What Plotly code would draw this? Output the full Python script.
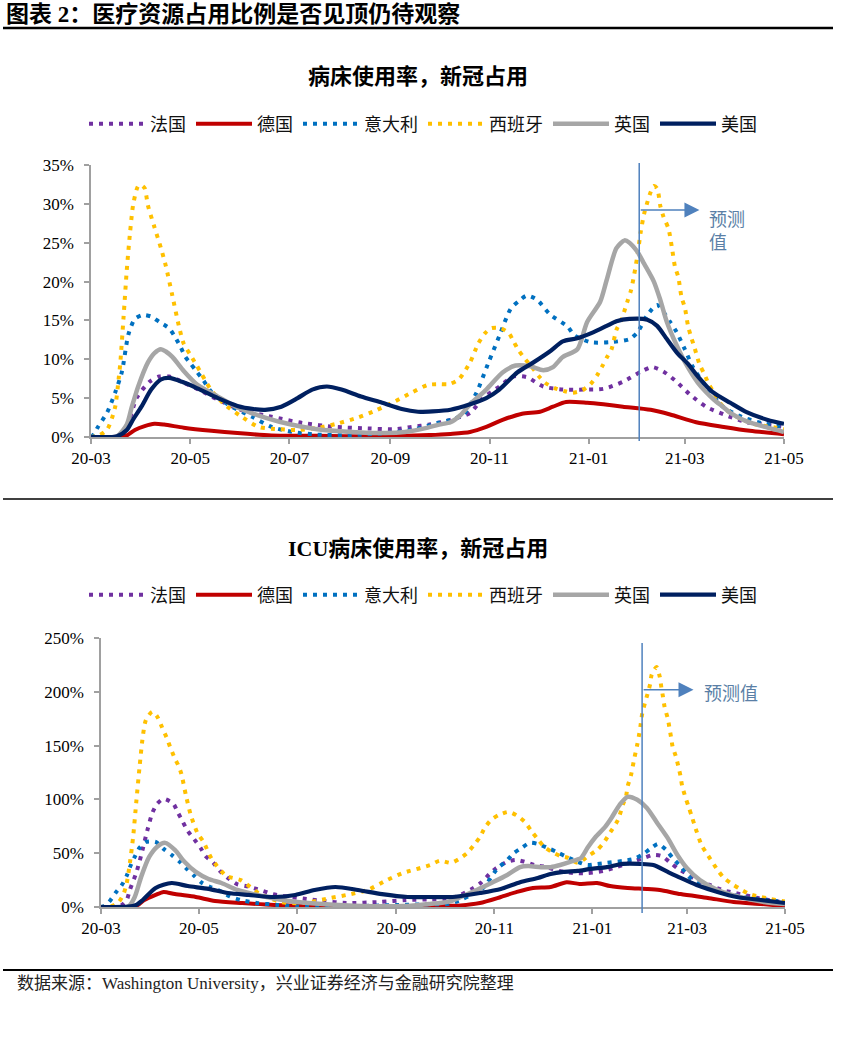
import pandas as pd
import plotly.graph_objects as go

START = "2020-03-01"
X_END = "2021-05-01"
FORECAST_START = "2021-02-01"

# ---------------- 病床使用率 (%), x = days since 2020-03-01 ----------------
fr_bed_days = [0, 16, 22, 28, 36, 42, 48, 57, 68, 78, 92, 111, 130, 150, 170, 187, 197, 208, 221, 233, 241, 251,
               260, 268, 278, 290, 303, 315, 327, 338, 345, 352, 360, 368, 378, 389, 403, 415, 426]
fr_bed_vals = [0, 0.1, 1.3, 5.0, 7.1, 7.8, 7.8, 7.0, 5.9, 4.8, 3.5, 2.6, 1.8, 1.3, 1.1, 1.0, 1.3, 1.6, 2.2, 3.1, 5.0,
               6.5, 7.8, 7.7, 6.5, 6.1, 6.1, 6.2, 7.1, 8.4, 9.0, 8.4, 7.1, 5.5, 3.9, 2.9, 1.9, 1.6, 1.3]

de_bed_days = [0, 17, 22, 27, 33, 39, 45, 57, 74, 90, 111, 139, 180, 208, 221, 233, 243, 253, 265, 276, 284, 292,
               305, 315, 327, 344, 356, 372, 389, 405, 426]
de_bed_vals = [0, 0, 0.2, 0.9, 1.4, 1.7, 1.6, 1.2, 0.8, 0.5, 0.2, 0.15, 0.1, 0.25, 0.4, 0.65, 1.3, 2.2, 3.0, 3.25,
               3.9, 4.5, 4.4, 4.2, 3.9, 3.5, 2.9, 1.9, 1.3, 0.8, 0.35]

it_bed_days = [0, 2, 4, 10, 15, 19, 23, 27, 32, 37, 42, 48, 51, 55, 58, 61, 65, 69, 74, 84, 99, 111, 124, 139, 160,
               181, 197, 213, 221, 229, 237, 244, 251, 258, 263, 268, 274, 282, 293, 297, 307, 319, 331, 336, 342,
               348, 356, 360, 365, 370, 375, 381, 389, 400, 412, 426]
it_bed_vals = [0, 0.4, 1.2, 3.2, 5.8, 8.4, 13.2, 15.2, 15.7, 15.5, 14.8, 14.0, 13.1, 11.6, 10.3, 9.5, 8.4, 7.3, 5.8,
               4.2, 2.6, 1.3, 0.65, 0.3, 0.25, 0.5, 0.9, 1.8, 2.2, 2.9, 5.7, 9.4, 13.0, 16.5, 17.5, 18.2, 17.7, 15.8,
               14.2, 13.1, 12.2, 12.2, 12.6, 13.5, 15.7, 17.0, 14.8, 13.5, 11.3, 9.0, 7.4, 5.7, 3.8, 2.6, 1.8, 1.3]

es_bed_days = [0, 5, 10, 13, 15, 17, 18, 20, 22, 24, 26, 29, 31, 33, 35, 39, 43, 46, 50, 54, 57, 61, 65, 68, 71, 74,
               82, 92, 103, 116, 127, 140, 151, 164, 175, 187, 197, 207, 214, 220, 226, 233, 238, 242, 246, 252, 257,
               260, 263, 267, 271, 275, 279, 285, 291, 296, 302, 307, 311, 314, 317, 320, 323, 326, 328, 330, 332,
               334, 336, 338, 340, 342, 344, 346, 348, 350, 352, 355, 357, 359, 361, 363, 365, 367, 369, 371, 374,
               377, 380, 383, 386, 390, 396, 402, 409, 415, 421, 426]
es_bed_vals = [0, 0.2, 1.0, 2.5, 4.0, 7.5, 9.5, 15.4, 21.5, 26.3, 30.0, 32.3, 32.4, 32.0, 29.8, 27.0, 24.3, 22.0,
               18.2, 14.3, 12.0, 10.6, 9.2, 8.1, 7.0, 6.0, 4.2, 2.7, 1.3, 1.0, 0.9, 1.2, 1.7, 2.5, 3.4, 4.6, 5.7, 6.7,
               6.8, 6.8, 7.4, 9.6, 12.0, 13.3, 14.0, 14.0, 13.3, 12.2, 11.1, 10.0, 9.0, 7.9, 7.0, 6.3, 5.9, 5.7, 6.0,
               6.8, 7.9, 9.0, 10.2, 11.3, 13.8, 15.0, 16.3, 17.6, 18.9, 21.0, 23.5, 26.5, 28.7, 30.2, 31.5, 32.3,
               32.0, 29.7, 28.3, 26.8, 24.5, 21.9, 20.6, 18.0, 16.7, 14.3, 12.8, 11.5, 9.4, 8.1, 6.7, 5.7, 4.6, 3.6,
               2.7, 2.1, 1.6, 1.4, 1.2, 1.0]

gb_bed_days = [0, 16, 22, 25, 29, 35, 39, 43, 46, 50, 57, 65, 78, 90, 107, 123, 139, 160, 181, 193, 207, 214, 221,
               227, 233, 243, 253, 261, 270, 278, 284, 290, 299, 305, 313, 317, 323, 328, 331, 336, 340, 346, 350,
               354, 360, 366, 373, 378, 383, 389, 393, 403, 416, 426]
gb_bed_vals = [0, 0.1, 1.6, 3.8, 6.5, 9.6, 10.8, 11.3, 11.0, 10.3, 8.5, 6.8, 5.2, 3.8, 2.5, 1.6, 1.0, 0.65, 0.5,
               0.65, 1.2, 1.6, 1.9, 2.8, 4.2, 6.1, 8.3, 9.2, 9.1, 8.6, 9.0, 10.3, 11.3, 14.8, 17.4, 20.2, 24.3, 25.3,
               25.0, 23.8, 22.3, 20.0, 17.6, 14.8, 11.8, 9.3, 7.0, 5.8, 4.8, 3.8, 3.1, 2.0, 1.2, 0.65]

us_bed_days = [0, 16, 22, 26, 31, 37, 43, 48, 56, 65, 78, 90, 100, 107, 117, 127, 136, 145, 154, 166, 179, 191, 201,
               210, 221, 233, 243, 251, 262, 272, 282, 290, 299, 309, 317, 323, 331, 342, 348, 354, 360, 367, 373,
               382, 393, 403, 416, 426]
us_bed_vals = [0, 0.1, 0.9, 2.3, 3.9, 6.1, 7.4, 7.6, 7.1, 6.3, 5.0, 4.0, 3.6, 3.5, 3.9, 5.0, 6.1, 6.5, 6.1, 5.2, 4.4,
               3.6, 3.25, 3.3, 3.5, 4.2, 5.0, 6.1, 8.3, 9.6, 11.0, 12.3, 12.7, 13.5, 14.3, 14.9, 15.2, 15.1, 14.3,
               12.6, 10.9, 9.4, 7.8, 5.8, 4.4, 3.2, 2.2, 1.7]

# ---------------- ICU病床使用率 (%) ----------------
fr_icu_days = [0, 10, 13, 16, 18, 22, 25, 29, 32, 35, 39, 45, 48, 51, 54, 58, 62, 65, 70, 74, 79, 85, 90, 97, 107,
               118, 128, 138, 153, 174, 190, 205, 214, 222, 232, 237, 242, 246, 253, 258, 264, 270, 278, 285, 294,
               303, 313, 321, 331, 338, 344, 349, 354, 359, 365, 371, 379, 387, 398, 409, 419, 426]
fr_icu_vals = [0, 0.5, 2, 6.5, 16, 32, 48, 72, 87.5, 96, 100.5, 96, 87.5, 79, 70.7, 63, 55, 47.5, 41, 33.5, 27, 21,
               19.5, 16.8, 12, 9.3, 7.4, 5.6, 3.7, 4.7, 6.5, 7, 7.5, 10, 17.7, 23, 30.7, 36, 42, 43.8, 42, 39, 37,
               33.5, 31.6, 31.6, 33.5, 37, 42, 45.6, 48.4, 47.5, 42, 36, 30.7, 25, 20.5, 15.8, 12, 8.4, 5.6, 4.7]

de_icu_days = [0, 17, 22, 27, 34, 39, 46, 59, 71, 88, 108, 141, 180, 204, 215, 224, 236, 249, 259, 269, 280, 290,
               298, 309, 317, 328, 340, 348, 361, 378, 394, 411, 426]
de_icu_vals = [0, 0, 1, 6.5, 11.2, 14, 12, 9.3, 5.6, 3.7, 1.9, 0.3, 0.3, 0.6, 1.2, 1.5, 3.7, 9.3, 14, 17.7, 18.6,
               23, 21.4, 22.3, 19.5, 17.7, 16.8, 15.8, 12, 8.4, 4.7, 2.8, 0.9]

it_icu_days = [0, 2, 5, 9, 13, 16, 18, 21, 24, 28, 34, 39, 44, 49, 53, 58, 63, 68, 73, 80, 87, 97, 110, 122, 143,
               163, 184, 205, 217, 224, 230, 238, 247, 252, 257, 262, 267, 272, 278, 284, 290, 297, 303, 309, 315,
               325, 332, 337, 342, 347, 352, 356, 362, 367, 373, 381, 392, 403, 415, 426]
it_icu_vals = [0, 1, 4.7, 13, 20.5, 29, 37, 46.5, 55, 60.5, 60.5, 54, 48.4, 42, 36, 29, 22.3, 18.6, 15.8, 10, 6.5,
               3.7, 1.9, 0.5, 0.3, 0.9, 1.9, 2.5, 3, 6.5, 11, 17.7, 36, 42, 50, 55, 59.6, 58.6, 55, 51, 46.5, 42, 39,
               40, 41, 42.8, 44.7, 48.4, 54, 58.6, 53, 45.6, 36, 27, 21.4, 16.8, 12, 8.4, 6.5, 4.7]

es_icu_days = [0, 6, 11, 14, 16, 18, 20, 22, 24, 26, 28, 32, 35, 38, 41, 43, 46, 48, 50, 53, 56, 60, 64, 69, 78, 87,
               99, 112, 126, 143, 153, 166, 178, 188, 199, 205, 211, 218, 223, 228, 232, 236, 239, 243, 248, 254, 259,
               264, 268, 272, 276, 281, 286, 291, 297, 304, 309, 313, 317, 322, 325, 327, 328, 330, 332, 334, 335,
               336, 337, 339, 340, 342, 343, 346, 348, 349, 350, 351, 353, 355, 356, 358, 360, 361, 362, 364, 366,
               368, 370, 374, 378, 384, 388, 393, 398, 404, 411, 417, 424, 426]
es_icu_vals = [0, 0.5, 4.6, 12, 22, 41, 65, 98, 130, 158, 174, 181.5, 177, 167, 157, 149, 138, 132, 124, 103, 85, 69,
               60, 44.7, 29, 25, 12, 4.7, 3.7, 8.4, 11.2, 15.8, 25, 31.6, 36.3, 39, 43, 41, 44.7, 50, 57, 65, 73.5,
               81, 85.7, 88.4, 85, 79, 70.8, 63, 56, 51, 47.5, 45.6, 41, 48, 53, 59.6, 69, 81, 95, 103, 112, 122, 137,
               151, 159, 168.5, 179, 191, 196, 207, 216, 223, 214, 204, 195.5, 186, 175, 158, 149, 140, 128, 121, 112,
               102, 93, 84, 74.5, 57.7, 48, 34.4, 27, 21.4, 16.8, 12, 9.3, 7.4, 5.6, 5]

gb_icu_days = [0, 17, 21, 25, 30, 35, 40, 46, 52, 59, 67, 75, 85, 100, 117, 138, 163, 188, 204, 211, 219, 224, 234,
               244, 253, 261, 266, 274, 280, 286, 294, 299, 303, 308, 314, 318, 323, 328, 334, 340, 346, 353, 359,
               365, 373, 384, 398, 413, 426]
gb_icu_vals = [0, 0.5, 9.3, 28, 46.5, 56, 59.6, 53, 42, 32.6, 26, 22.3, 15.8, 10.2, 5.6, 2.8, 0.9, 0.9, 2.8, 3.7, 6,
               9.3, 15.8, 23, 29.8, 37, 38, 37, 37, 39, 42.8, 45.6, 55, 65, 74.5, 83, 95, 102.4, 99.6, 92, 79, 64,
               48.4, 36, 25, 15.8, 9.3, 4.7, 2.8]

us_icu_days = [0, 17, 22, 26, 34, 44, 54, 67, 79, 92, 108, 121, 133, 146, 160, 175, 191, 204, 219, 224, 236, 249,
               261, 272, 280, 288, 297, 305, 315, 325, 336, 344, 353, 361, 371, 384, 396, 411, 426]
us_icu_vals = [0, 0.3, 2, 6.5, 17.7, 22.3, 19.5, 16.8, 13, 11.2, 9.3, 11.2, 15.8, 18.6, 15.8, 12, 9.3, 9.3, 9.3, 10.2,
               13, 16.8, 23, 27, 30.7, 32.6, 33.5, 35.4, 37, 40, 40, 39, 32.6, 27, 20.5, 14, 9.3, 6.5, 3.7]

countries = ["法国", "德国", "意大利", "西班牙", "英国", "美国"]
colors = ["#7030a0", "#c00000", "#0070c0", "#ffc000", "#a6a6a6", "#002060"]
dashes = ["4px,6px", "solid", "4px,6px", "4px,6px", "solid", "solid"]
widths = [4, 4, 4, 4, 4.5, 4.2]

bed_series = [(fr_bed_days, fr_bed_vals), (de_bed_days, de_bed_vals), (it_bed_days, it_bed_vals),
              (es_bed_days, es_bed_vals), (gb_bed_days, gb_bed_vals), (us_bed_days, us_bed_vals)]
icu_series = [(fr_icu_days, fr_icu_vals), (de_icu_days, de_icu_vals), (it_icu_days, it_icu_vals),
              (es_icu_days, es_icu_vals), (gb_icu_days, gb_icu_vals), (us_icu_days, us_icu_vals)]


def to_dates(days):
    base = pd.Timestamp(START)
    return [(base + pd.Timedelta(days=d)).strftime("%Y-%m-%d") for d in days]


SERIF = "Liberation Serif, 'Noto Sans CJK SC', serif"
CJK = "'Noto Sans CJK SC', 'Liberation Serif', sans-serif"

fig = go.Figure()
for i, name in enumerate(countries):
    d, v = bed_series[i]
    fig.add_trace(go.Scatter(x=to_dates(d), y=v, name=name, mode="lines", xaxis="x", yaxis="y",
                             line=dict(color=colors[i], width=widths[i], dash=dashes[i], shape="spline",
                                       smoothing=0.7),
                             legend="legend"))
for i, name in enumerate(countries):
    d, v = icu_series[i]
    fig.add_trace(go.Scatter(x=to_dates(d), y=v, name=name, mode="lines", xaxis="x2", yaxis="y2",
                             line=dict(color=colors[i], width=widths[i], dash=dashes[i], shape="spline",
                                       smoothing=0.7),
                             legend="legend2"))

W, H = 843, 1050


def px(x):
    return x / W


def py(y):
    return 1 - y / H


axis_common = dict(showgrid=False, zeroline=False, showline=True, linecolor="#a0a0a0", linewidth=1.5,
                   ticks="outside", ticklen=5, tickcolor="#a0a0a0", tickwidth=1.5, automargin=False,
                   tickfont=dict(family=SERIF, size=17, color="#000000"))

fig.update_layout(
    template="none",
    width=W, height=H, margin=dict(l=0, r=0, t=0, b=0, autoexpand=False), autosize=False,
    paper_bgcolor="white", plot_bgcolor="white",
    xaxis=dict(axis_common, domain=[px(91), px(784)], range=[START, X_END], anchor="y",
               dtick="M2", tick0=START, tickformat="%y-%m"),
    yaxis=dict(axis_common, domain=[py(437), py(165)], range=[0, 35], dtick=5, ticksuffix="%", anchor="x",
               ticklabelstandoff=7),
    xaxis2=dict(axis_common, domain=[px(101), px(785)], range=[START, X_END], anchor="y2",
                dtick="M2", tick0=START, tickformat="%y-%m"),
    yaxis2=dict(axis_common, domain=[py(907), py(638)], range=[0, 250], dtick=50, ticksuffix="%", anchor="x2",
                ticklabelstandoff=7),
    legend=dict(orientation="h", x=px(423), y=py(124), xanchor="center", yanchor="middle",
                font=dict(family=CJK, size=18, color="#111111"), itemwidth=56, bgcolor="rgba(0,0,0,0)"),
    legend2=dict(orientation="h", x=px(423), y=py(595), xanchor="center", yanchor="middle",
                 font=dict(family=CJK, size=18, color="#111111"), itemwidth=56, bgcolor="rgba(0,0,0,0)"),
    showlegend=True,
)

shapes = [
    dict(type="line", xref="paper", yref="paper", x0=px(3), x1=px(833), y0=py(28), y1=py(28),
         line=dict(color="black", width=2.5)),
    dict(type="line", xref="paper", yref="paper", x0=px(3), x1=px(833), y0=py(499), y1=py(499),
         line=dict(color="black", width=1.5)),
    dict(type="line", xref="paper", yref="paper", x0=px(3), x1=px(833), y0=py(970), y1=py(970),
         line=dict(color="black", width=2)),
    dict(type="line", xref="x", yref="paper", x0=FORECAST_START, x1=FORECAST_START, y0=py(441), y1=py(163),
         line=dict(color="#4f81bd", width=1.5)),
    dict(type="line", xref="x2", yref="paper", x0=FORECAST_START, x1=FORECAST_START, y0=py(913), y1=py(643),
         line=dict(color="#4f81bd", width=1.5)),
]
fig.update_layout(shapes=shapes)

annotations = [
    dict(text="<b>图表 2：医疗资源占用比例是否见顶仍待观察</b>", x=px(4), y=py(15), xref="paper", yref="paper",
         xanchor="left", yanchor="middle", showarrow=False, font=dict(family=SERIF, size=23, color="black")),
    dict(text="<b>病床使用率，新冠占用</b>", x=px(418), y=py(76), xref="paper", yref="paper",
         xanchor="center", yanchor="middle", showarrow=False, font=dict(family=SERIF, size=22, color="black")),
    dict(text="<b>ICU病床使用率，新冠占用</b>", x=px(418), y=py(548), xref="paper", yref="paper",
         xanchor="center", yanchor="middle", showarrow=False, font=dict(family=SERIF, size=22, color="black")),
    dict(text="数据来源：Washington University，兴业证券经济与金融研究院整理", x=px(15), y=py(983),
         xref="paper", yref="paper", xanchor="left", yanchor="middle", showarrow=False,
         font=dict(family=SERIF, size=17, color="#222222")),
    # forecast arrows
    dict(text="", x="2021-03-10", y=29.2, xref="x", yref="y", ax=FORECAST_START, ay=29.2, axref="x", ayref="y",
         showarrow=True, arrowhead=2, arrowsize=2, arrowwidth=1.5, arrowcolor="#4f81bd"),
    dict(text="", x="2021-03-05", y=202, xref="x2", yref="y2", ax=FORECAST_START, ay=202, axref="x2", ayref="y2",
         showarrow=True, arrowhead=2, arrowsize=2, arrowwidth=1.5, arrowcolor="#4f81bd"),
    dict(text="预测<br>值", x=px(707), y=py(229), xref="paper", yref="paper", xanchor="left", yanchor="middle",
         align="left", showarrow=False, font=dict(family=CJK, size=18, color="#5a7fa6")),
    dict(text="预测值", x=px(702), y=py(692), xref="paper", yref="paper", xanchor="left", yanchor="middle",
         showarrow=False, font=dict(family=CJK, size=18, color="#5a7fa6")),
]
fig.update_layout(annotations=annotations)

fig.write_html("out.html", config={"displayModeBar": False},
               post_script="document.body.style.margin='0';")
